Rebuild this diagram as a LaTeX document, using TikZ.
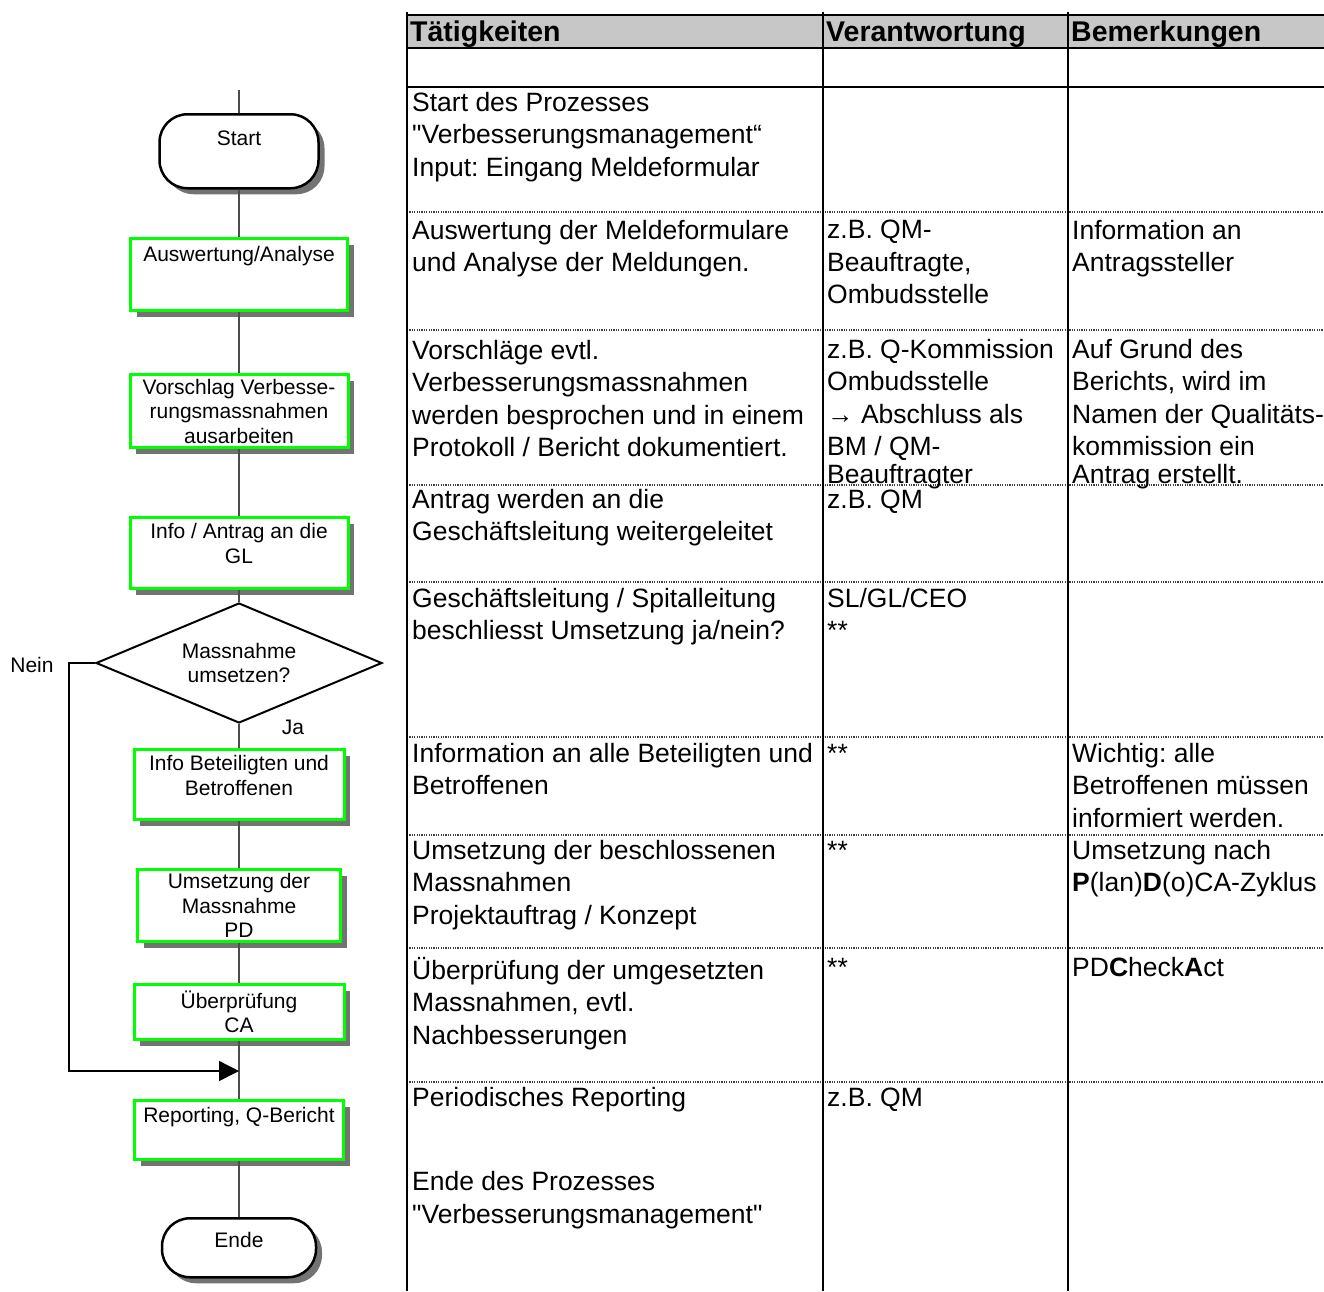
\documentclass[tikz,border=0pt]{standalone}
\usepackage{fontspec}
\setmainfont{Liberation Sans}
\newfontfamily\arial{Liberation Sans}
\usetikzlibrary{shapes.geometric,shadows,arrows.meta}
\frenchspacing

\newcommand{\tabfont}{\arial\fontsize{26.5}{32.5}\selectfont}
\newcommand{\headfont}{\arial\fontsize{28.5}{34}\selectfont\bfseries}
\newcommand{\flowfont}{\arial\fontsize{21}{24.5}\selectfont}

\tikzset{
  flowline/.style = {line width=1.3, black!70},
  boxshadow/.style = {drop shadow={shadow xshift=6pt, shadow yshift=-6pt, fill=black!55, opacity=1}},
  procbox/.style = {draw=green, line width=3, fill=white, boxshadow, anchor=north,
    inner sep=0pt, align=center, font=\flowfont, minimum height=72},
  termbox/.style = {draw=black, line width=2.5, rounded corners=28, fill=white, boxshadow,
    anchor=north, inner sep=0pt, align=center, font=\flowfont},
  decision/.style = {diamond, aspect=2.4, draw=black, line width=2, fill=white, inner sep=0pt,
    minimum width=286, minimum height=120, align=center, font=\flowfont},
  cell/.style = {anchor=north west, inner sep=0pt, align=left, font=\tabfont,
    execute at begin node=\strut},
  head/.style = {anchor=base west, inner sep=0pt, font=\headfont},
  rowline/.style = {line width=1.6, black!75, dash pattern=on 1.2pt off 1.2pt},
  colline/.style = {line width=2.6, black}
}

\begin{document}
\begin{tikzpicture}[x=1pt, y=-1pt]
\useasboundingbox (0,0) rectangle (1324,1291);

% table frame
\fill[black!22] (407,15) rectangle (1324,48);
\draw[line width=2] (407,15) -- (1324,15);
\draw[line width=2.6] (407,48) -- (1324,48);
\draw[line width=2.6] (407,87) -- (1324,87);
\foreach \y in {212,330,485,582,737,835,948,1082}
  \draw[rowline] (407,\y) -- (1324,\y);
\draw[colline] (407,12) -- (407,1291);
\draw[colline] (823,12) -- (823,1291);
\draw[colline] (1068,12) -- (1068,1291);

% header
\node[head] (h1) at (410,41.5) {Tätigkeiten};
\node[head] (h2) at (826,41.5) {Verantwortung};
\node[head] (h3) at (1071,41.5) {Bemerkungen};

% rows
\node[cell] (r1a) at (412,92) {Start des Prozesses\\"Verbesserungsmanagement“\\Input: Eingang Meldeformular};

\node[cell] (r2a) at (412,220) {Auswertung der Meldeformulare\\und Analyse der Meldungen.};
\node[cell] (r2b) at (827,220) {z.B. QM-\\Beauftragte,\\Ombudsstelle};
\node[cell] (r2c) at (1072,220) {Information an\\Antragssteller};

\node[cell] (r3a) at (412,340) {Vorschläge evtl.\\Verbesserungsmassnahmen\\werden besprochen und in einem\\Protokoll / Bericht dokumentiert.};
\node[cell] (r3b) at (827,339) {z.B. Q-Kommission\\Ombudsstelle\\→ Abschluss als\\BM / QM-\\[-5pt]Beauftragter};
\node[cell] (r3c) at (1072,339) {Auf Grund des\\Berichts, wird im\\Namen der Qualitäts-\\kommission ein\\[-5pt]Antrag erstellt.};

\node[cell] (r4a) at (412,489) {Antrag werden an die\\Geschäftsleitung weitergeleitet};
\node[cell] (r4b) at (827,486) {z.B. QM};

\node[cell] (r5a) at (412,588) {Geschäftsleitung / Spitalleitung\\beschliesst Umsetzung ja/nein?};
\node[cell] (r5b) at (827,588) {SL/GL/CEO\\**};

\node[cell] (r6a) at (412,743) {Information an alle Beteiligten und\\Betroffenen};
\node[cell] (r6b) at (827,740) {**};
\node[cell] (r6c) at (1072,743) {Wichtig: alle\\Betroffenen müssen\\informiert werden.};

\node[cell] (r7a) at (412,840) {Umsetzung der beschlossenen\\Massnahmen\\Projektauftrag / Konzept};
\node[cell] (r7b) at (827,837) {**};
\node[cell] (r7c) at (1072,840) {Umsetzung nach\\\textbf{P}(lan)\textbf{D}(o)CA-Zyklus};

\node[cell] (r8a) at (412,957) {Überprüfung der umgesetzten\\Massnahmen, evtl.\\Nachbesserungen};
\node[cell] (r8b) at (827,954) {**};
\node[cell] (r8c) at (1072,954) {PD\textbf{C}heck\textbf{A}ct};

\node[cell] (r9a) at (412,1087) {Periodisches Reporting\\[52pt]Ende des Prozesses\\"Verbesserungsmanagement"};
\node[cell] (r9b) at (827,1084) {z.B. QM};

% flowchart
\coordinate (top) at (239,90);
\node[termbox, minimum width=159, minimum height=74] (start) at (239,113) {Start\\[-6pt]\strut};
\node[procbox, minimum width=217] (ausw) at (239,237) {Auswertung/Analyse\\[10pt]\strut};
\node[procbox, minimum width=218, minimum height=73] (vorschl) at (239,373) {Vorschlag Verbesse-\\rungsmassnahmen\\ausarbeiten};
\node[procbox, minimum width=218, minimum height=71] (antrag) at (239,516) {Info / Antrag an die\\GL\\[-13pt]\strut};
\node[decision] (dec) at (239,663) {Massnahme\\umsetzen?};
\node[procbox, minimum width=210, minimum height=70] (beteil) at (239,748) {Info Beteiligten und\\Betroffenen\\[-14pt]\strut};
\node[procbox, minimum width=203] (umsetz) at (239,868) {Umsetzung der\\Massnahme\\PD};
\node[procbox, minimum width=210, minimum height=55] (ueber) at (239,983) {Überprüfung\\CA};
\node[procbox, minimum width=209, minimum height=59] (report) at (239,1099) {Reporting, Q-Bericht\\[-1pt]\strut};
\node[termbox, minimum width=154, minimum height=59] (ende) at (239,1217) {Ende\\[-17pt]\strut};
\coordinate (join) at (239,1071);

\node[font=\flowfont] (ja) at (293,727) {Ja};
\node[font=\flowfont] (nein) at (32,665) {Nein};

\draw[flowline] (top) -- (start);
\draw[flowline] (start) -- (ausw);
\draw[flowline] (ausw) -- (vorschl);
\draw[flowline] (vorschl) -- (antrag);
\draw[flowline] (antrag) -- (dec);
\draw[flowline] (dec) -- (beteil);
\draw[flowline] (beteil) -- (umsetz);
\draw[flowline] (umsetz) -- (ueber);
\draw[flowline] (ueber) -- (report);
\draw[flowline] (report) -- (ende);
\draw[line width=1.5, -{Triangle[length=20pt, width=20pt]}] (dec.west) -- ++(-26,0) |- (join);
\end{tikzpicture}
\end{document}
